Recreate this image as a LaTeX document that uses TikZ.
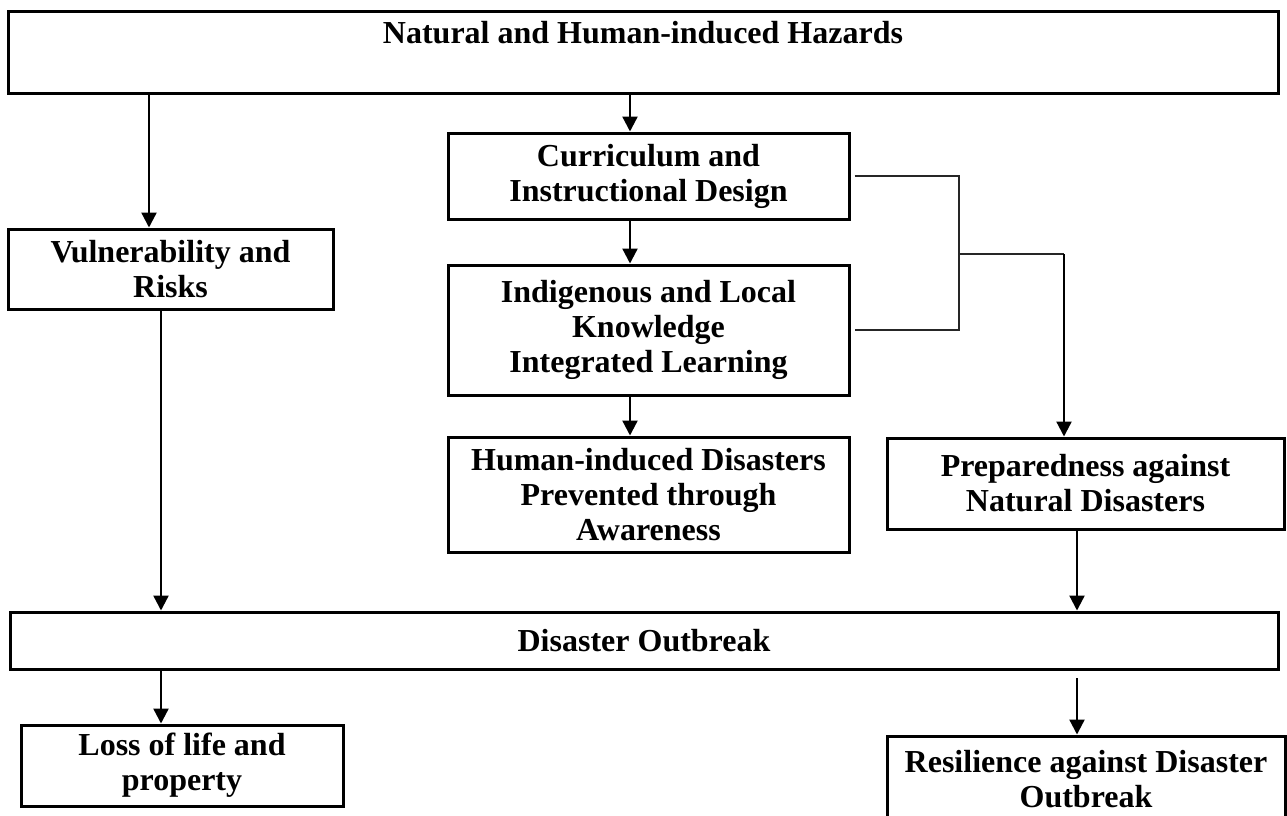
\documentclass[tikz,border=0pt]{standalone}
\usepackage{fontspec}
\setmainfont{Liberation Serif}
\usetikzlibrary{arrows.meta,calc}
\begin{document}
\begin{tikzpicture}[x=1pt,y=-1pt,
  box/.style={draw, line width=3pt, align=center, inner sep=0pt, font=\fontsize{32}{35}\selectfont\bfseries},
  lbl/.style={align=center, inner sep=0pt, font=\fontsize{32}{35}\selectfont\bfseries},
  arr/.style={line width=2.3pt, -{Triangle[length=15pt,width=15pt]}},
  brk/.style={line width=1.8pt, draw=black!85}]
\useasboundingbox (0,0) rectangle (1287,815);
% boxes
\node[box, minimum width=1270pt, minimum height=82pt] (hz) at (643,52) {};
\node[lbl] (hzt) at (643,33) {Natural and Human-induced Hazards};
\node[box, minimum width=325pt, minimum height=80pt] (vr) at (170.5,269) {Vulnerability and\\Risks};
\node[box, minimum width=401pt, minimum height=86pt] (cur) at (648.5,176) {Curriculum and\\Instructional Design};
\node[box, minimum width=401pt, minimum height=130pt] (ind) at (648.5,330) {Indigenous and Local\\Knowledge\\Integrated Learning};
\node[box, minimum width=401pt, minimum height=115pt] (hum) at (648.5,494.5) {Human-induced Disasters\\Prevented through\\Awareness};
\node[box, minimum width=397pt, minimum height=91pt] (prep) at (1085.5,483.5) {Preparedness against\\Natural Disasters};
\node[box, minimum width=1268pt, minimum height=57pt] (dis) at (644,640.5) {Disaster Outbreak};
\node[box, minimum width=322pt, minimum height=81pt] (loss) at (182,765.5) {Loss of life and\\property};
\node[box, minimum width=398pt, minimum height=86pt] (res) at (1086,779) {Resilience against Disaster\\Outbreak};
% helper x positions
\coordinate (xa) at (149,0);
\coordinate (xb) at (630,0);
\coordinate (xc) at (161,0);
\coordinate (xd) at (1077,0);
\coordinate (xe) at (1064,0);
\coordinate (j) at (959,254);
\coordinate (rs) at (1077,678);
% connectors
\draw[arr] (hz.south -| xa) -- (vr.north -| xa);
\draw[arr] (hz.south -| xb) -- (cur.north -| xb);
\draw[arr] (cur.south -| xb) -- (ind.north -| xb);
\draw[arr] (ind.south -| xb) -- (hum.north -| xb);
\draw[brk] ([xshift=4pt]cur.east) -- (cur.east -| j) -- (ind.east -| j) -- ([xshift=4pt]ind.east);
\draw[brk] (j) -- (j -| xe);
\draw[arr] (j -| xe) -- (prep.north -| xe);
\draw[arr] (vr.south -| xc) -- (dis.north -| xc);
\draw[arr] (prep.south -| xd) -- (dis.north -| xd);
\draw[arr] (dis.south -| xc) -- (loss.north -| xc);
\draw[arr] (rs) -- (res.north -| xd);
\end{tikzpicture}
\end{document}
